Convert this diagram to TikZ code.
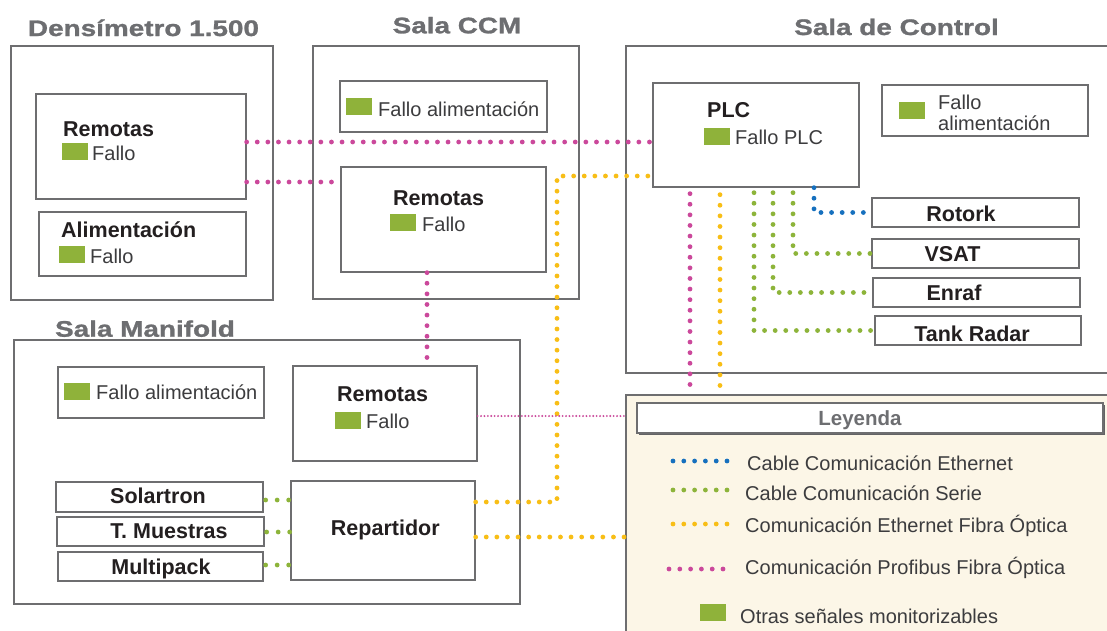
\documentclass[tikz,border=0pt]{standalone}
\usepackage{fontspec}
\setmainfont{Liberation Sans}
\newfontfamily\titlefont[FakeStretch=1.24, BoldFeatures={FakeBold=1.2}]{Liberation Sans}
\definecolor{boxgray}{RGB}{110,110,112}
\definecolor{ttlgray}{RGB}{109,110,113}
\definecolor{labblack}{RGB}{35,31,32}
\definecolor{txtgray}{RGB}{60,60,62}
\definecolor{sqgreen}{RGB}{143,178,58}
\definecolor{cpink}{RGB}{203,72,155}
\definecolor{cyellow}{RGB}{248,190,22}
\definecolor{cgreen}{RGB}{141,180,58}
\definecolor{cblue}{RGB}{22,112,190}
\definecolor{cream}{RGB}{252,246,231}
\tikzset{
  box/.style={draw=boxgray, line width=1.3pt, rectangle, inner sep=0pt},
  lab/.style={anchor=base west, inner sep=0pt, font=\bfseries\fontsize{21.5}{24}\selectfont, text=labblack},
  labc/.style={lab, anchor=base},
  txt/.style={anchor=base west, inner sep=0pt, font=\fontsize{20}{23}\selectfont, text=txtgray},
  ttl/.style={anchor=base, inner sep=0pt, font=\titlefont\bfseries\fontsize{22.5}{26}\selectfont, text=ttlgray},
  sq/.style={fill=sqgreen, draw=none, inner sep=0pt, minimum width=26pt, minimum height=17pt, anchor=north west},
  dotline/.style={line width=4.8pt, line cap=round, dash pattern=on 0pt off 10.6pt},
  pinkdot/.style={dotline, draw=cpink},
  yeldot/.style={dotline, draw=cyellow},
  greendot/.style={dotline, draw=cgreen},
  bluedot/.style={dotline, draw=cblue},
  thinpink/.style={draw=cpink, line width=2.1pt, line cap=round, dash pattern=on 0pt off 3.4pt},
}
\begin{document}
\begin{tikzpicture}[x=1pt,y=-1pt]
\useasboundingbox (0,0) rectangle (1107,630);
\clip (0,0) rectangle (1107,630);
\fill[white] (0,0) rectangle (1107,630);

% ---------- titles
\node[ttl] (tDens) at (143.5,36) {Densímetro 1.500};
\node[ttl] (tCCM) at (457,33.3) {Sala CCM};
\node[ttl] (tCtrl) at (896.5,35) {Sala de Control};
\node[ttl] (tMan) at (145,336.7) {Sala Manifold};

% ---------- legend background
\node[box, fill=cream, minimum width=494pt, minimum height=250pt] (legend) at (873,520) {};
\fill[boxgray!90!black] (638.5,404.5) rectangle (1104.5,435);
\node[box, fill=white, minimum width=466pt, minimum height=30pt] (leyHead) at (870,418) {};
\node[anchor=base, inner sep=0pt, font=\bfseries\fontsize{20.5}{24}\selectfont, text=ttlgray] (tLey) at (860,425) {Leyenda};

% ---------- Densímetro
\node[box, minimum width=262pt, minimum height=254pt] (densOuter) at (142,173) {};
\node[box, minimum width=210pt, minimum height=105pt] (densRem) at (141,146.5) {};
\node[box, minimum width=207pt, minimum height=64pt] (densAli) at (142.5,244) {};
\node[lab] (tDR) at (63,136.7) {Remotas};
\node[sq] (sqDR) at (62,143) {};
\node[txt] (fDR) at (92,160) {Fallo};
\node[lab] (tDA) at (61,237) {Alimentación};
\node[sq] (sqDA) at (59,246) {};
\node[txt] (fDA) at (90,263) {Fallo};

% ---------- Sala CCM
\node[box, minimum width=266pt, minimum height=253pt] (ccmOuter) at (446,172.5) {};
\node[box, minimum width=207pt, minimum height=51pt] (ccmAli) at (443.5,106.5) {};
\node[sq] (sqCA) at (346,98) {};
\node[txt] (fCA) at (378,116) {Fallo alimentación};
\node[box, minimum width=205pt, minimum height=105pt] (ccmRem) at (443.5,219.5) {};
\node[lab] (tCR) at (393,205.7) {Remotas};
\node[sq] (sqCR) at (390,214) {};
\node[txt] (fCR) at (422,231) {Fallo};

% ---------- Sala de Control
\node[box, minimum width=494pt, minimum height=327pt] (ctrlOuter) at (873,209.5) {};
\node[box, minimum width=206pt, minimum height=104pt] (plc) at (756,135) {};
\node[lab] (tPLC) at (707,117.7) {PLC};
\node[sq] (sqPLC) at (704,128) {};
\node[txt] (fPLC) at (735,144) {Fallo PLC};
\node[box, minimum width=206pt, minimum height=51pt] (ctrlAli) at (985,110.5) {};
\node[sq] (sqCtA) at (899,102) {};
\node[txt] (fCtA1) at (938,109) {Fallo};
\node[txt] (fCtA2) at (938,130.7) {alimentación};
\node[box, minimum width=207pt, minimum height=29pt] (rotork) at (975.5,212.5) {};
\node[labc] (tRot) at (961,221) {Rotork};
\node[box, minimum width=207pt, minimum height=29pt] (vsat) at (975.5,253.5) {};
\node[labc] (tVsat) at (952.5,261.7) {VSAT};
\node[box, minimum width=207pt, minimum height=29pt] (enraf) at (976.5,292.5) {};
\node[labc] (tEnr) at (954,300.7) {Enraf};
\node[box, minimum width=206pt, minimum height=29pt] (tank) at (978,330.5) {};
\node[labc] (tTank) at (972,341.7) {Tank Radar};

% ---------- Sala Manifold
\node[box, minimum width=506pt, minimum height=264pt] (manOuter) at (267,472) {};
\node[box, minimum width=206pt, minimum height=51pt] (manAli) at (161,392.5) {};
\node[sq] (sqMA) at (64,383) {};
\node[txt] (fMA) at (96,399) {Fallo alimentación};
\node[box, minimum width=184pt, minimum height=95pt] (manRem) at (385,413.5) {};
\node[lab] (tMR) at (337,401.7) {Remotas};
\node[sq] (sqMR) at (335,412) {};
\node[txt] (fMR) at (366,428) {Fallo};
\node[box, minimum width=207pt, minimum height=30pt] (solartron) at (159.5,497) {};
\node[labc] (tSol) at (158,503.3) {Solartron};
\node[box, minimum width=207pt, minimum height=29pt] (muestras) at (160.5,531.5) {};
\node[labc] (tMue) at (169,538) {T. Muestras};
\node[box, minimum width=205pt, minimum height=29pt] (multipack) at (160.5,566.5) {};
\node[labc] (tMul) at (161,574.5) {Multipack};
\node[box, minimum width=184pt, minimum height=99pt] (repartidor) at (383,530.5) {};
\node[labc] (tRep) at (385.3,535) {Repartidor};

% ---------- helper coordinates
\coordinate (yP1) at (0,142);
\coordinate (yP2) at (0,182);
\coordinate (xP) at (427,0);
\coordinate (cY) at (557,176);
\coordinate (yR1) at (0,502);
\coordinate (yR2) at (0,537);
\coordinate (yThin) at (0,416);
\coordinate (x690) at (690,0);
\coordinate (x720) at (720,0);
\coordinate (x754) at (754,0);
\coordinate (x773) at (773,0);
\coordinate (x793) at (793,0);
\coordinate (x814) at (814,0);
\coordinate (yG1) at (0,500);
\coordinate (yG2) at (0,532);
\coordinate (yG3) at (0,565);

% ---------- connectors
\draw[pinkdot] (densRem.east |- yP1) -- (plc.west |- yP1);
\draw[pinkdot] (densRem.east |- yP2) -- (ccmRem.west |- yP2);
\draw[pinkdot] (ccmRem.south -| xP) -- (manRem.north -| xP);
\draw[yeldot] (repartidor.east |- yR1) -- (cY |- yR1) -- (cY) -- (plc.west |- cY);
\draw[yeldot] (repartidor.east |- yR2) -- (legend.west |- yR2);
\draw[thinpink] (manRem.east |- yThin) -- (legend.west |- yThin);
\draw[pinkdot] ([yshift=-6pt]plc.south -| x690) -- (legend.north -| x690);
\draw[yeldot] ([yshift=-7pt]plc.south -| x720) -- (legend.north -| x720);
\draw[bluedot] (plc.south -| x814) -- (x814 |- rotork.west) -- (rotork.west);
\draw[greendot] ([yshift=-5pt]plc.south -| x793) -- (x793 |- vsat.west) -- (vsat.west);
\draw[greendot] ([yshift=-5pt]plc.south -| x773) -- (x773 |- enraf.west) -- (enraf.west);
\draw[greendot] ([yshift=-5pt]plc.south -| x754) -- (x754 |- tank.west) -- (tank.west);
\draw[greendot, dash pattern=on 0pt off 11.5pt] ([xshift=2pt]solartron.east |- yG1) -- (repartidor.west |- yG1);
\draw[greendot, dash pattern=on 0pt off 11.5pt] ([xshift=2pt]muestras.east |- yG2) -- (repartidor.west |- yG2);
\draw[greendot, dash pattern=on 0pt off 11.5pt] ([xshift=2pt]multipack.east |- yG3) -- (repartidor.west |- yG3);

% ---------- legend entries
\draw[bluedot, dash pattern=on 0pt off 10.8pt] (673,461) -- (727.5,461);
\draw[greendot, dash pattern=on 0pt off 10.8pt] (673,490) -- (727.5,490);
\draw[yeldot, dash pattern=on 0pt off 10.8pt] (673,524) -- (727.5,524);
\draw[pinkdot, dash pattern=on 0pt off 10.8pt] (669,569) -- (723.5,569);
\node[txt] (lg1) at (747,470) {Cable Comunicación Ethernet};
\node[txt] (lg2) at (745,500) {Cable Comunicación Serie};
\node[txt] (lg3) at (745,532.7) {Comunicación Ethernet Fibra Óptica};
\node[txt] (lg4) at (745,574.3) {Comunicación Profibus Fibra Óptica};
\node[sq] (lgsq) at (700,604) {};
\node[txt] (lg5) at (740,623) {Otras señales monitorizables};
\end{tikzpicture}
\end{document}
